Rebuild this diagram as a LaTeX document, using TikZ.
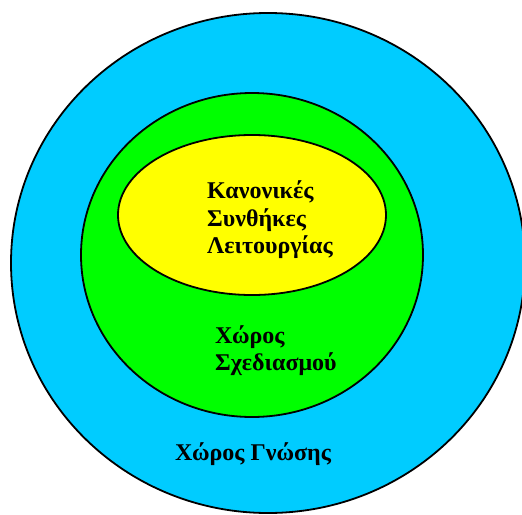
\documentclass[tikz,border=0pt]{standalone}
\usepackage{fontspec}
\setmainfont{Liberation Serif}
\definecolor{outercyan}{HTML}{00CCFF}
\definecolor{midgreen}{HTML}{00FF00}
\definecolor{inneryellow}{HTML}{FFFF00}
\begin{document}
\begin{tikzpicture}[x=1pt,y=-1pt,
  region/.style={draw=black, line width=1.8pt},
  lbl/.style={anchor=base west, inner sep=0pt, font=\fontsize{24}{27}\selectfont\bfseries, align=left}]
\useasboundingbox (0,0) rectangle (522,514);
\fill[white] (0,0) rectangle (522,514);
\draw[region, fill=outercyan] (268,263) ellipse [x radius=257, y radius=250];
\draw[region, fill=midgreen] (252,255) ellipse [x radius=171, y radius=162];
\draw[region, fill=inneryellow] (252,215) ellipse [x radius=134, y radius=80];
\node[lbl] (k1) at (207,198) {Κανονικές};
\node[lbl] (k2) at (207,226) {Συνθήκες};
\node[lbl] (k3) at (207,253) {Λειτουργίας};
\node[lbl] (d1) at (215,343) {Χώρος};
\node[lbl] (d2) at (215,370) {Σχεδιασμού};
\node[lbl] (g1) at (175,460) {Χώρος Γνώσης};
\end{tikzpicture}
\end{document}
